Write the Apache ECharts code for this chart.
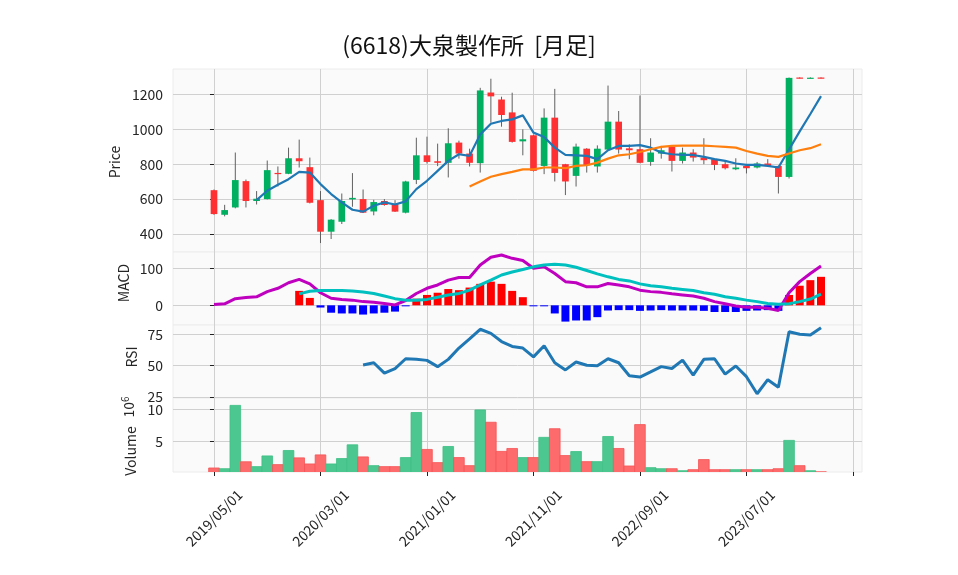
<!DOCTYPE html>
<html>
<head>
<meta charset="utf-8">
<script src="https://cdn.jsdelivr.net/npm/echarts@6/dist/echarts.min.js"></script>
<style>
  html, body { margin: 0; padding: 0; background: #fff; }
  #chart { width: 958px; height: 575px; }
</style>
</head>
<body>
<div id="chart"></div>
<script>
(function () {
  // monthly bars, index 0 = 2019/05/01 ... 57 = 2024/02/01
  const tickIdx = [0, 10, 20, 30, 40, 50, 60];
  const tickLabels = ['2019/05/01', '2020/03/01', '2021/01/01', '2021/11/01', '2022/09/01', '2023/07/01', ''];

  const open  = [651, 510, 552, 703, 589, 600, 750, 745, 834, 783, 594, 413, 470, 598, 600, 529, 589, 571, 522, 710,
                 851, 817, 808, 924, 861, 806, 1211, 1171, 1097, 931, 966, 790, 1067, 800, 733, 889, 787, 884, 1044, 891,
                 886, 813, 861, 899, 819, 867, 838, 829, 800, 771, 790, 781, 804, 790, 727, 1297, 1294, 1297];
  const high  = [655, 567, 867, 712, 646, 821, 787, 895, 941, 838, 646, 485, 632, 749, 655, 596, 600, 594, 705, 952,
                 958, 918, 1006, 935, 889, 1238, 1290, 1187, 1210, 1000, 970, 1120, 1232, 802, 918, 892, 908, 1251, 1105, 914,
                 1194, 949, 905, 901, 895, 886, 949, 831, 823, 834, 792, 813, 829, 792, 1297, 1298, 1298, 1298];
  const low   = [510, 501, 547, 552, 569, 598, 672, 743, 781, 575, 348, 371, 457, 556, 520, 507, 562, 526, 518, 686,
                 804, 789, 724, 832, 787, 752, 1038, 1015, 924, 851, 758, 743, 701, 623, 672, 752, 752, 880, 861, 829,
                 806, 791, 832, 758, 804, 815, 800, 766, 770, 766, 747, 776, 786, 632, 718, 1292, 1292, 1292];
  const close = [514, 537, 709, 589, 602, 766, 745, 834, 817, 579, 413, 482, 589, 607, 522, 583, 566, 528, 701, 851,
                 813, 808, 920, 861, 808, 1223, 1189, 1082, 928, 943, 762, 1067, 750, 701, 901, 794, 889, 1044, 884, 880,
                 808, 867, 880, 819, 867, 838, 823, 796, 777, 781, 777, 804, 790, 727, 1295, 1293, 1296, 1293];

  const ma5 = [null, null, null, null, 594, 648, 682, 714, 756, 752, 686, 629, 581, 539, 528, 562, 581, 569, 587, 657,
               705, 762, 819, 857, 848, 971, 1032, 1048, 1057, 1080, 981, 956, 895, 853, 851, 848, 829, 880, 905, 905,
               909, 895, 867, 857, 853, 853, 842, 829, 819, 804, 796, 796, 790, 781, 884, 988, 1088, 1190];
  const ma25 = [null, null, null, null, null, null, null, null, null, null, null, null, null, null, null, null, null, null, null, null,
                null, null, null, null, 672, 701, 728, 743, 756, 770, 770, 781, 781, 777, 790, 794, 809, 832, 851, 857,
                870, 886, 899, 905, 907, 907, 907, 903, 899, 895, 876, 861, 848, 842, 861, 880, 892, 914];

  const macd = [2, 4, 18, 21, 23, 37, 46, 61, 70, 58, 34, 19, 16, 14, 10, 8, 5, 1, 13, 32,
                46, 55, 68, 75, 75, 109, 130, 136, 127, 121, 100, 104, 86, 64, 61, 50, 50, 59, 55, 50,
                41, 37, 35, 31, 28, 25, 19, 10, 4, -2, -5, -5, -8, -14, 34, 64, 86, 106];
  const signal = [null, null, null, null, null, null, null, null, 31, 38, 40, 40, 40, 39, 36, 32, 25, 18, 14, 14,
                  16, 22, 28, 32, 41, 55, 68, 82, 90, 97, 104, 109, 111, 109, 103, 94, 85, 77, 70, 66,
                  58, 53, 50, 46, 43, 40, 34, 30, 23, 19, 14, 10, 5, 3, 4, 10, 17, 30];
  const hist = [null, null, null, null, null, null, null, null, 39, 20, -6, -20, -22, -22, -25, -22, -20, -17, -1, 18,
                28, 34, 44, 41, 48, 58, 64, 58, 39, 22, -2, -1, -22, -44, -41, -41, -32, -14, -13, -13,
                -15, -14, -13, -14, -14, -14, -15, -18, -18, -18, -15, -14, -13, -15, 28, 53, 68, 77];

  const rsi = [null, null, null, null, null, null, null, null, null, null, null, null, null, null, 50.5, 52.3, 44, 47.7, 55.5, 55,
               54.2, 49.2, 55, 64, 71.3, 79, 75.7, 69.2, 65.3, 64, 57, 65.9, 52.3, 46.6, 52.9, 50.3, 50, 55.5, 52.3, 41.9,
               40.9, 45, 49.2, 47.7, 54.4, 42.5, 55, 55.5, 43.2, 49.7, 41.2, 27.6, 38.8, 32.8, 77, 75, 74.5, 80.2];

  // volume in millions of shares
  const volume = [0.94, 0.83, 10.6, 1.9, 1.15, 2.8, 1.46, 3.64, 2.5, 1.56, 2.96, 1.56, 2.4, 4.52, 2.65, 1.3, 1.15, 1.15, 2.55, 9.5,
                  3.8, 1.77, 4.26, 2.55, 1.3, 9.9, 8.0, 3.5, 3.95, 2.55, 2.55, 5.67, 7.0, 2.86, 3.48, 1.92, 1.92, 5.8, 3.95, 1.25,
                  7.64, 0.99, 0.83, 0.83, 0.52, 0.68, 2.24, 0.68, 0.68, 0.68, 0.68, 0.68, 0.68, 0.83, 5.2, 1.3, 0.52, 0.36];

  const UP = '#00b060', DOWN = '#fe3032', WICK = '#606060';
  const VUP = '#4dc790', VDOWN = '#fd6b6c';
  const FONT = '"Noto Sans CJK JP", "Noto Sans", sans-serif';
  const TXT = '#262626';

  const XMIN = -3.85, XMAX = 60.85;
  const gridBox = { left: 173, right: 96 };
  const grids = [
    { top: 69, height: 183 },
    { top: 252, height: 73 },
    { top: 325, height: 73 },
    { top: 398, height: 74 }
  ].map((g) => ({
    ...gridBox, ...g, show: true, backgroundColor: '#fafafa', borderColor: '#ececec', borderWidth: 1
  }));

  function xAxis(i, last) {
    return {
      type: 'value', gridIndex: i, min: XMIN, max: XMAX,
      axisLine: { show: false },
      axisTick: { show: last, length: 4, lineStyle: { color: '#222' }, customValues: tickIdx },
      axisLabel: {
        show: last, rotate: 45, margin: 46, fontSize: 14, color: TXT, fontFamily: FONT,
        align: 'center', verticalAlign: 'middle',
        customValues: tickIdx,
        formatter: (v) => tickLabels[tickIdx.indexOf(Math.round(v))] || ''
      },
      splitLine: { show: true, lineStyle: { color: '#d0d0d0', width: 1 } }
    };
  }

  function yAxis(i, min, max, ticks) {
    return {
      type: 'value', gridIndex: i, min, max,
      axisLine: { show: false },
      axisTick: { show: true, length: 4, lineStyle: { color: '#222' }, customValues: ticks },
      axisLabel: {
        fontSize: 14, color: TXT, fontFamily: FONT, margin: 10, customValues: ticks,
        formatter: (v) => String(Math.round(v))
      },
      splitLine: { show: true, lineStyle: { color: '#d0d0d0', width: 1 } }
    };
  }

  const idx = close.map((_, i) => i);
  const pairs = (arr) => arr.map((v, i) => [i, v]);

  const candleData = idx.map((i) => [i, open[i], close[i], low[i], high[i]]);

  function renderCandle(params, api) {
    const x = api.value(0), o = api.value(1), c = api.value(2), l = api.value(3), h = api.value(4);
    const pO = api.coord([x, o]), pC = api.coord([x, c]);
    const pL = api.coord([x, l]), pH = api.coord([x, h]);
    const w = api.size([1, 0])[0] * 0.63;
    const top = Math.min(pO[1], pC[1]);
    const hgt = Math.max(Math.abs(pO[1] - pC[1]), 1.2);
    return {
      type: 'group',
      children: [
        { type: 'line', shape: { x1: pH[0], y1: pH[1], x2: pL[0], y2: pL[1] }, style: { stroke: WICK, lineWidth: 1 } },
        { type: 'rect', shape: { x: pO[0] - w / 2, y: top, width: w, height: hgt }, style: { fill: c >= o ? UP : DOWN } }
      ]
    };
  }

  function renderHist(params, api) {
    const x = api.value(0), v = api.value(1);
    if (v == null || isNaN(v)) return null;
    const p0 = api.coord([x, 0]), p1 = api.coord([x, v]);
    const w = api.size([1, 0])[0] * 0.75;
    return {
      type: 'rect',
      shape: { x: p0[0] - w / 2, y: Math.min(p0[1], p1[1]), width: w, height: Math.max(Math.abs(p1[1] - p0[1]), 1) },
      style: { fill: v >= 0 ? '#ff0000' : '#0000ff' }
    };
  }

  function renderVol(params, api) {
    const x = api.value(0), v = api.value(1), up = api.value(2) > 0;
    const p0 = api.coord([x, 0]), p1 = api.coord([x, v]);
    const w = api.size([1, 0])[0];
    return {
      type: 'rect',
      shape: { x: p0[0] - w / 2, y: p1[1], width: w, height: p0[1] - p1[1] },
      style: { fill: up ? VUP : VDOWN, stroke: up ? '#3cbf84' : '#f55456', lineWidth: 0.8 }
    };
  }

  const line = (name, data, xi, color, width) => ({
    name, type: 'line', xAxisIndex: xi, yAxisIndex: xi, data: pairs(data),
    showSymbol: false, symbol: 'none', connectNulls: false, clip: true,
    lineStyle: { color, width }, z: 5
  });

  const sideText = (text, x, y) => ({
    type: 'text', x, y, rotation: Math.PI / 2,
    style: { text, font: '14px ' + FONT, fill: TXT, align: 'center', verticalAlign: 'middle' }
  });

  const chart = echarts.init(document.getElementById('chart'));
  chart.setOption({
    animation: false,
    backgroundColor: '#ffffff',
    grid: grids,
    xAxis: [xAxis(0, false), xAxis(1, false), xAxis(2, false), xAxis(3, true)],
    yAxis: [
      yAxis(0, 296.6, 1345.9, [400, 600, 800, 1000, 1200]),
      yAxis(1, -53.2, 144.1, [0, 100]),
      yAxis(2, 24.2, 82.4, [25, 50, 75]),
      yAxis(3, 0.32, 11.74, [5, 10])
    ],
    graphic: [
      {
        type: 'text', x: 469, y: 45,
        style: { text: '(6618)大泉製作所  [月足]', font: '23px ' + FONT, fill: '#111', align: 'center', verticalAlign: 'middle' }
      },
      sideText('Price', 115, 162),
      sideText('MACD', 124, 283),
      sideText('RSI', 132, 357),
      sideText('Volume', 131, 451),
      {
        type: 'text', x: 129, y: 407, rotation: Math.PI / 2,
        style: {
          text: '{a|10}{b|6}', fill: TXT, align: 'center', verticalAlign: 'middle',
          rich: { a: { font: '14px ' + FONT, fill: TXT }, b: { font: '10px ' + FONT, fill: TXT, verticalAlign: 'top', padding: [0, 0, 8, 0] } }
        }
      }
    ],
    series: [
      { type: 'custom', xAxisIndex: 0, yAxisIndex: 0, data: candleData, renderItem: renderCandle, clip: true, z: 3 },
      line('MA5', ma5, 0, '#1f77b4', 2.2),
      line('MA25', ma25, 0, '#ff7f0e', 2.2),
      { type: 'custom', xAxisIndex: 1, yAxisIndex: 1, data: pairs(hist), renderItem: renderHist, clip: true, z: 3 },
      line('MACD', macd, 1, '#bf00bf', 3),
      line('Signal', signal, 1, '#00bfbf', 3),
      line('RSI', rsi, 2, '#1f77b4', 3),
      {
        type: 'custom', xAxisIndex: 3, yAxisIndex: 3, clip: true, z: 3,
        data: idx.map((i) => [i, volume[i], close[i] >= open[i] ? 1 : 0]),
        renderItem: renderVol
      }
    ]
  });
})();
</script>
</body>
</html>
